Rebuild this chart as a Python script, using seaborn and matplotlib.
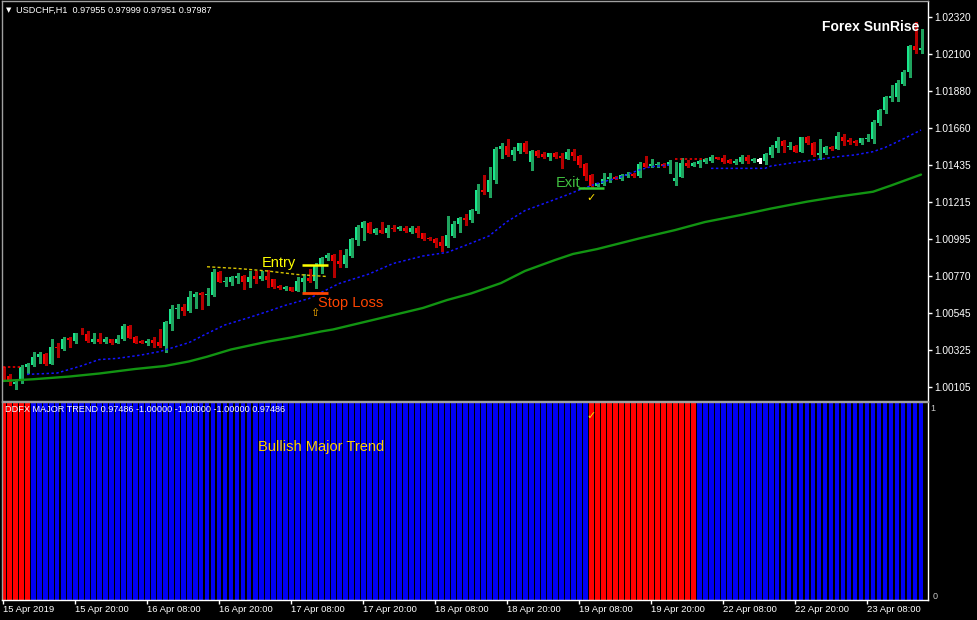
import numpy as np
import pandas as pd
import matplotlib
matplotlib.use("Agg")
import matplotlib.pyplot as plt
import seaborn as sns

W, H = 977, 620

# --- USDCHF H1 candles ---
opens = [1.00209, 1.00187, 1.00138, 1.00162, 1.00241, 1.00251, 1.00298, 1.00316, 1.00257, 1.00359,
         1.00346, 1.00411, 1.00395, 1.00443, 1.00435, 1.00389, 1.00403, 1.00389, 1.00403, 1.00383,
         1.00403, 1.00483, 1.00419, 1.00395, 1.00383, 1.00400, 1.00389, 1.00365, 1.00494, 1.00584,
         1.00594, 1.00572, 1.00653, 1.00681, 1.00667, 1.00667, 1.00805, 1.00746, 1.00746, 1.00766,
         1.00780, 1.00746, 1.00780, 1.00762, 1.00780, 1.00760, 1.00720, 1.00701, 1.00713, 1.00693,
         1.00746, 1.00770, 1.00750, 1.00845, 1.00885, 1.00905, 1.00869, 1.00849, 1.00899, 1.00994,
         1.01063, 1.01093, 1.01037, 1.01053, 1.01037, 1.01067, 1.01058, 1.01067, 1.01043, 1.01067,
         1.01034, 1.01008, 1.01000, 1.00984, 1.00960, 1.01018, 1.01087, 1.01123, 1.01113, 1.01166,
         1.01291, 1.01281, 1.01351, 1.01535, 1.01555, 1.01499, 1.01525, 1.01569, 1.01456, 1.01523,
         1.01503, 1.01489, 1.01509, 1.01495, 1.01476, 1.01519, 1.01495, 1.01444, 1.01380, 1.01317,
         1.01327, 1.01355, 1.01370, 1.01359, 1.01374, 1.01386, 1.01374, 1.01450, 1.01434, 1.01438,
         1.01446, 1.01434, 1.01347, 1.01370, 1.01454, 1.01436, 1.01444, 1.01459, 1.01465, 1.01486,
         1.01482, 1.01470, 1.01450, 1.01460, 1.01489, 1.01464, 1.01470, 1.01465, 1.01499, 1.01543,
         1.01583, 1.01549, 1.01553, 1.01519, 1.01605, 1.01573, 1.01498, 1.01513, 1.01549, 1.01537,
         1.01605, 1.01589, 1.01584, 1.01569, 1.01596, 1.01595, 1.01688, 1.01767, 1.01836, 1.01846,
         1.01922, 1.01995, 1.02147, 1.02124]
highs = [1.00239, 1.00197, 1.00162, 1.00251, 1.00263, 1.00330, 1.00330, 1.00322, 1.00405, 1.00382,
         1.00417, 1.00417, 1.00443, 1.00473, 1.00450, 1.00441, 1.00441, 1.00419, 1.00405, 1.00429,
         1.00494, 1.00489, 1.00423, 1.00399, 1.00403, 1.00415, 1.00463, 1.00510, 1.00607, 1.00613,
         1.00613, 1.00692, 1.00686, 1.00685, 1.00707, 1.00822, 1.00809, 1.00776, 1.00780, 1.00799,
         1.00786, 1.00811, 1.00811, 1.00811, 1.00815, 1.00764, 1.00724, 1.00720, 1.00717, 1.00776,
         1.00792, 1.00820, 1.00859, 1.00895, 1.00918, 1.00911, 1.00934, 1.00939, 1.01006, 1.01083,
         1.01107, 1.01101, 1.01065, 1.01099, 1.01083, 1.01083, 1.01079, 1.01077, 1.01077, 1.01077,
         1.01036, 1.01014, 1.01006, 1.01018, 1.01137, 1.01109, 1.01133, 1.01149, 1.01176, 1.01327,
         1.01380, 1.01426, 1.01549, 1.01569, 1.01595, 1.01549, 1.01572, 1.01583, 1.01529, 1.01529,
         1.01519, 1.01513, 1.01519, 1.01513, 1.01533, 1.01533, 1.01499, 1.01450, 1.01386, 1.01333,
         1.01391, 1.01391, 1.01374, 1.01386, 1.01398, 1.01392, 1.01460, 1.01493, 1.01474, 1.01460,
         1.01452, 1.01470, 1.01460, 1.01480, 1.01470, 1.01458, 1.01470, 1.01480, 1.01499, 1.01490,
         1.01499, 1.01476, 1.01474, 1.01499, 1.01499, 1.01482, 1.01482, 1.01509, 1.01559, 1.01605,
         1.01588, 1.01578, 1.01556, 1.01609, 1.01610, 1.01577, 1.01595, 1.01553, 1.01553, 1.01634,
         1.01624, 1.01602, 1.01589, 1.01602, 1.01622, 1.01707, 1.01773, 1.01852, 1.01916, 1.01945,
         1.02005, 1.02153, 1.02292, 1.02247]
lows = [1.00156, 1.00132, 1.00108, 1.00144, 1.00203, 1.00245, 1.00263, 1.00251, 1.00255, 1.00298,
        1.00340, 1.00358, 1.00382, 1.00437, 1.00389, 1.00382, 1.00382, 1.00382, 1.00376, 1.00382,
        1.00399, 1.00409, 1.00379, 1.00379, 1.00369, 1.00359, 1.00359, 1.00330, 1.00459, 1.00530,
        1.00548, 1.00566, 1.00588, 1.00584, 1.00608, 1.00664, 1.00742, 1.00720, 1.00726, 1.00740,
        1.00703, 1.00713, 1.00740, 1.00756, 1.00713, 1.00709, 1.00703, 1.00697, 1.00689, 1.00691,
        1.00681, 1.00746, 1.00708, 1.00796, 1.00875, 1.00776, 1.00835, 1.00835, 1.00893, 1.00964,
        1.00994, 1.01035, 1.01030, 1.01035, 1.01014, 1.01049, 1.01052, 1.01043, 1.01035, 1.01014,
        1.00994, 1.00992, 1.00954, 1.00930, 1.00954, 1.01010, 1.01043, 1.01083, 1.01103, 1.01153,
        1.01268, 1.01248, 1.01335, 1.01479, 1.01493, 1.01470, 1.01513, 1.01513, 1.01410, 1.01489,
        1.01480, 1.01470, 1.01480, 1.01424, 1.01474, 1.01470, 1.01430, 1.01351, 1.01311, 1.01315,
        1.01321, 1.01341, 1.01355, 1.01351, 1.01368, 1.01368, 1.01370, 1.01426, 1.01426, 1.01430,
        1.01428, 1.01391, 1.01321, 1.01367, 1.01430, 1.01434, 1.01430, 1.01450, 1.01459, 1.01474,
        1.01454, 1.01450, 1.01446, 1.01454, 1.01454, 1.01458, 1.01454, 1.01446, 1.01486, 1.01519,
        1.01519, 1.01533, 1.01516, 1.01515, 1.01565, 1.01495, 1.01477, 1.01505, 1.01530, 1.01533,
        1.01559, 1.01565, 1.01559, 1.01565, 1.01584, 1.01569, 1.01678, 1.01747, 1.01822, 1.01822,
        1.01916, 1.01965, 1.02104, 1.02104]
closes = [1.00179, 1.00151, 1.00151, 1.00241, 1.00257, 1.00300, 1.00316, 1.00257, 1.00359, 1.00350,
          1.00405, 1.00400, 1.00441, 1.00439, 1.00393, 1.00405, 1.00389, 1.00403, 1.00383, 1.00403,
          1.00483, 1.00413, 1.00383, 1.00383, 1.00395, 1.00383, 1.00364, 1.00506, 1.00584, 1.00591,
          1.00572, 1.00655, 1.00673, 1.00667, 1.00673, 1.00805, 1.00746, 1.00750, 1.00776, 1.00780,
          1.00746, 1.00776, 1.00762, 1.00782, 1.00756, 1.00713, 1.00707, 1.00713, 1.00693, 1.00750,
          1.00766, 1.00750, 1.00839, 1.00889, 1.00905, 1.00869, 1.00851, 1.00905, 1.00998, 1.01069,
          1.01099, 1.01037, 1.01059, 1.01037, 1.01067, 1.01058, 1.01071, 1.01049, 1.01067, 1.01034,
          1.01000, 1.00998, 1.00978, 1.00960, 1.01024, 1.01089, 1.01123, 1.01113, 1.01172, 1.01291,
          1.01281, 1.01351, 1.01535, 1.01555, 1.01499, 1.01529, 1.01569, 1.01519, 1.01523, 1.01495,
          1.01489, 1.01509, 1.01489, 1.01480, 1.01519, 1.01495, 1.01440, 1.01376, 1.01315, 1.01331,
          1.01357, 1.01370, 1.01359, 1.01379, 1.01386, 1.01374, 1.01446, 1.01430, 1.01446, 1.01446,
          1.01434, 1.01460, 1.01363, 1.01454, 1.01434, 1.01450, 1.01464, 1.01474, 1.01486, 1.01478,
          1.01460, 1.01454, 1.01465, 1.01486, 1.01465, 1.01476, 1.01470, 1.01505, 1.01549, 1.01584,
          1.01553, 1.01553, 1.01519, 1.01605, 1.01569, 1.01499, 1.01513, 1.01549, 1.01533, 1.01612,
          1.01584, 1.01577, 1.01569, 1.01602, 1.01600, 1.01694, 1.01767, 1.01842, 1.01850, 1.01929,
          1.01995, 1.02147, 1.02124, 1.02137]

# slow moving average (solid green)
ma_bars = [0, 5, 11, 16, 22, 27, 31, 34, 38, 44, 48, 53, 55, 63, 70, 74, 78, 83, 87, 92, 95, 99,
           103, 106, 112, 117, 123, 128, 134, 139, 145, 148, 153]
ma_vals = [1.00156, 1.00166, 1.00182, 1.00200, 1.00227, 1.00245, 1.00272, 1.00300, 1.00343, 1.00389,
           1.00414, 1.00450, 1.00462, 1.00530, 1.00590, 1.00637, 1.00676, 1.00738, 1.00810, 1.00875,
           1.00911, 1.00940, 1.00976, 1.01003, 1.01053, 1.01101, 1.01143, 1.01181, 1.01222, 1.01251,
           1.01281, 1.01318, 1.01383]

# trailing line, bullish part (blue dotted), two pieces
trail1_bars = [4, 9, 13, 16, 19, 23, 26, 27, 31, 34, 37, 41, 44, 47, 51, 56, 61, 65, 70, 74, 77, 81,
               84, 87, 91, 94, 96, 99, 103, 106, 108, 111]
trail1_vals = [1.00195, 1.00203, 1.00245, 1.00283, 1.00290, 1.00310, 1.00330, 1.00340, 1.00384,
               1.00438, 1.00489, 1.00533, 1.00568, 1.00605, 1.00646, 1.00735, 1.00792, 1.00854,
               1.00899, 1.00920, 1.00961, 1.01018, 1.01103, 1.01169, 1.01222, 1.01262, 1.01291,
               1.01330, 1.01369, 1.01410, 1.01430, 1.01440]
trail2_bars = [118, 127, 128, 133, 136, 139, 142, 144, 145, 147, 149, 151, 153]
trail2_vals = [1.01420, 1.01420, 1.01434, 1.01460, 1.01474, 1.01489, 1.01500, 1.01513, 1.01519,
               1.01544, 1.01577, 1.01612, 1.01648]
# bearish part (red dotted)
bear1_bars = [0, 3]
bear1_vals = [1.00239, 1.00239]
bear2_bars = [112, 117]
bear2_vals = [1.01474, 1.01474]
# yellow dashed line near the entry
yel_bars = [34, 39, 44, 49, 54]
yel_vals = [1.00835, 1.00825, 1.00810, 1.00789, 1.00777]

# lower window: DDFX major trend state per bar
trend_state = ["bear"] * 5 + ["bull"] * 93 + ["bear"] * 18 + ["bull"] * 38

date_ticks = [0, 12, 24, 36, 48, 60, 72, 84, 96, 108, 120, 132, 144]
date_labels = ["15 Apr 2019", "15 Apr 20:00", "16 Apr 08:00", "16 Apr 20:00", "17 Apr 08:00",
               "17 Apr 20:00", "18 Apr 08:00", "18 Apr 20:00", "19 Apr 08:00", "19 Apr 20:00",
               "22 Apr 08:00", "22 Apr 20:00", "23 Apr 08:00"]
price_ticks = [1.0232, 1.0210, 1.0188, 1.0166, 1.0144, 1.0122, 1.0100, 1.0078, 1.0056, 1.0034, 1.0012]
price_labels = ["1.02320", "1.02100", "1.01880", "1.01660", "1.01435", "1.01215", "1.00995",
                "1.00770", "1.00545", "1.00325", "1.00105"]

BULL = "#19E68C"
BEAR = "#FF0000"
BULL_WICK = "#1FA35E"
BEAR_WICK = "#B40000"

sns.set_theme(style="dark", rc={"axes.facecolor": "black", "figure.facecolor": "black",
                                "axes.grid": False})
plt.rcParams["font.family"] = ["Liberation Sans", "DejaVu Sans"]

fig = plt.figure(figsize=(W / 100, H / 100), dpi=100)
fig.patch.set_facecolor("black")


def fx(px):
    return px / W


def fy(py):
    return 1 - py / H


ax = fig.add_axes([fx(2), fy(400.5), fx(925.5), (400.5 - 1) / H])
ax2 = fig.add_axes([fx(2), fy(600), fx(925.5), (600 - 402) / H])
xlim = (-1 / 6, 924.5 / 6)

# --- candles ---
o = np.array(opens)
c = np.array(closes)
hi = np.array(highs)
lo = np.array(lows)
idx = np.arange(len(o))
up = c > o
dn = c < o
doji = c == o
wx = idx + 1 / 12
ax.vlines(wx[up], lo[up], hi[up], color=BULL_WICK, lw=1, antialiased=False)
ax.vlines(wx[dn], lo[dn], hi[dn], color=BEAR_WICK, lw=1, antialiased=False)
ax.vlines(wx[doji], lo[doji], hi[doji], color="white", lw=1, antialiased=False)
body = np.maximum(np.abs(c - o), 0.00005)
ax.bar(idx[up], body[up], bottom=o[up], width=4 / 6, color=BULL, linewidth=0, antialiased=False)
ax.bar(idx[dn], body[dn], bottom=c[dn], width=4 / 6, color=BEAR, linewidth=0, antialiased=False)
ax.hlines(c[doji], idx[doji] - 0.34, idx[doji] + 0.34, color="white", lw=1, antialiased=False)

# --- indicator lines ---
sns.lineplot(x=ma_bars, y=ma_vals, color="#129412", lw=1.7, ax=ax, estimator=None, sort=False)
dot = (0, (1.6, 1.6))
sns.lineplot(x=trail1_bars, y=trail1_vals, color="#1414FF", lw=1.1, linestyle=dot, ax=ax, estimator=None)
sns.lineplot(x=trail2_bars, y=trail2_vals, color="#1414FF", lw=1.1, linestyle=dot, ax=ax, estimator=None)
sns.lineplot(x=bear1_bars, y=bear1_vals, color="#FF0000", lw=1.1, linestyle=dot, ax=ax, estimator=None)
sns.lineplot(x=bear2_bars, y=bear2_vals, color="#FF0000", lw=1.1, linestyle=dot, ax=ax, estimator=None)
sns.lineplot(x=yel_bars, y=yel_vals, color="#D8C400", lw=1, linestyle=(0, (2.2, 1.6)), ax=ax, estimator=None)

# trade annotations
ax.hlines(1.00845, 49.8, 54.2, color="#FFFF00", lw=1.8)
ax.hlines(1.00679, 49.8, 54.2, color="#FF4500", lw=2.0)
ax.hlines(1.01303, 95.8, 100.2, color="#32CD32", lw=1.8)
ax.text(43.2, 1.00857, "Entry", color="#FFFF00", fontsize=10.5, va="center", ha="left")
ax.text(52.5, 1.00619, "Stop Loss", color="#FF4500", fontsize=10.5, va="center", ha="left")
ax.text(92.2, 1.01333, "Exit", color="#40C040", fontsize=10.5, va="center", ha="left")
ax.text(52.0, 1.00560, "\u21e7", color="#FFB000", fontsize=8, va="center", ha="center",
        family="DejaVu Sans")
ax.text(98.0, 1.01244, "\u2713", color="#FFE000", fontsize=8, va="center", ha="center",
        family="DejaVu Sans", fontweight="bold")

ax.set_xlim(*xlim)
ax.set_ylim(1.0232 - 383.5 * 0.00005946, 1.0232 + 16 * 0.00005946)
ax.set_xticks([])
ax.yaxis.tick_right()
ax.set_yticks(price_ticks)
ax.set_yticklabels(price_labels)
ax.tick_params(axis="y", colors="white", labelcolor="white", length=3, width=1, pad=2,
               labelsize=7.3, right=True, left=False)
ax.set_xlabel("")
ax.set_ylabel("")

# --- lower window: trend histogram ---
df_trend = pd.DataFrame({"bar": idx, "level": 1.0, "state": trend_state})
sns.barplot(data=df_trend, x="bar", y="level", hue="state",
            palette={"bear": "#FF0000", "bull": "#0000F5"}, width=5 / 6, saturation=1,
            legend=False, errorbar=None, linewidth=0, ax=ax2)
for p in ax2.patches:
    p.set_antialiased(False)
ax2.set_xlim(*xlim)
ax2.set_ylim(0, 1)
ax2.set_yticks([])
ax2.set_xticks(date_ticks)
ax2.set_xticklabels(date_labels)
for lab in ax2.get_xticklabels():
    lab.set_ha("left")
ax2.tick_params(axis="x", colors="white", labelcolor="white", length=3, width=1, pad=0.5,
                labelsize=6.8, bottom=True)
ax2.set_xlabel("")
ax2.set_ylabel("")
ax2.text(1.0035, 0.965, "1", transform=ax2.transAxes, color="#C8C8C8", fontsize=6.5,
         va="center", ha="left")
ax2.text(1.006, 0.02, "0", transform=ax2.transAxes, color="#C8C8C8", fontsize=6.5,
         va="center", ha="left")
ax2.text(98.0, 0.93, "\u2713", color="#FFE000", fontsize=8, va="center", ha="center",
         family="DejaVu Sans", fontweight="bold")

for a in (ax, ax2):
    for side in ("left", "top"):
        a.spines[side].set_color("#A0A0A0")
        a.spines[side].set_linewidth(1)
    for side in ("right", "bottom"):
        a.spines[side].set_color("white")
        a.spines[side].set_linewidth(1)
ax.spines["bottom"].set_color("#A0A0A0")

# labels in window corners
fig.text(fx(6), fy(10), "\u25bc", color="white", fontsize=5, va="center", ha="left",
         family="DejaVu Sans")
fig.text(fx(16), fy(10), "USDCHF,H1  0.97955 0.97999 0.97951 0.97987", color="white",
         fontsize=6.6, va="center", ha="left")
fig.text(fx(919), fy(27), "Forex SunRise", color="white", fontsize=10, fontweight="bold",
         va="center", ha="right")
fig.text(fx(5), fy(410), "DDFX MAJOR TREND 0.97486 -1.00000 -1.00000 -1.00000 0.97486",
         color="white", fontsize=6.6, va="center", ha="left")
fig.text(fx(258), fy(446.5), "Bullish Major Trend", color="#FFD000", fontsize=10.5,
         va="center", ha="left")

fig.savefig("out.png", dpi=100, facecolor="black")
